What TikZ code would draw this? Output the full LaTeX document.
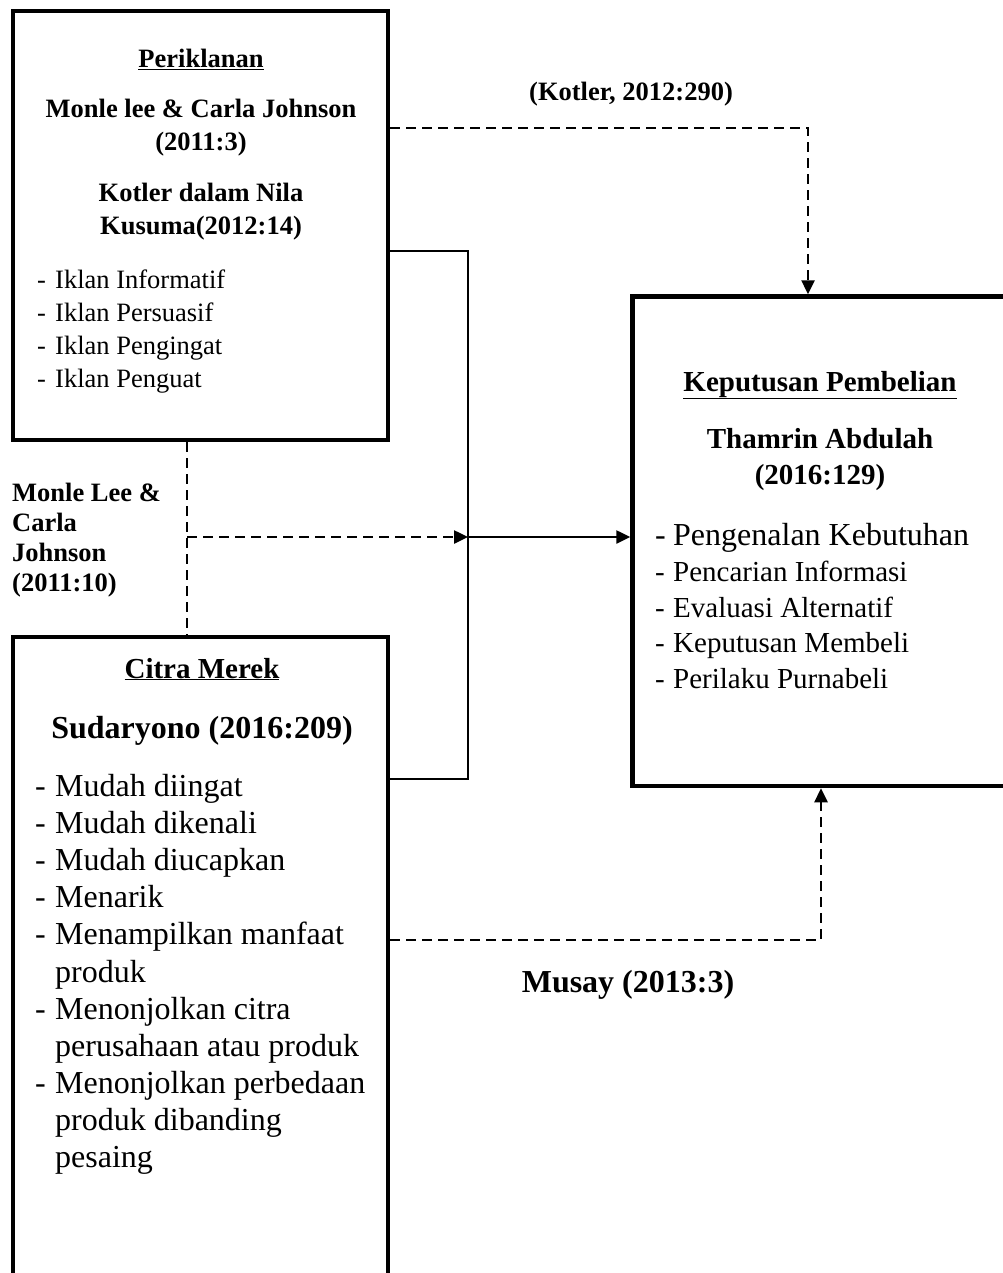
\documentclass[tikz,border=0pt]{standalone}
\usepackage{fontspec}
\setmainfont{Liberation Serif}
\usetikzlibrary{arrows.meta}
\tikzset{
  box/.style={draw, line width=4.5pt, inner sep=0pt},
  link/.style={line width=2.5pt},
  dlink/.style={line width=2.5pt, dash pattern=on 10pt off 6pt},
  tip/.style={-{Triangle[length=14pt,width=13pt]}},
  fA/.style={inner sep=0pt, font=\fontsize{26.5}{32}\selectfont},
  fB/.style={inner sep=0pt, font=\fontsize{29}{36}\selectfont},
  fC/.style={inner sep=0pt, font=\fontsize{32}{37}\selectfont},
}

\begin{document}
\begin{tikzpicture}[x=1pt,y=-1pt]
    \useasboundingbox (0,0) rectangle (1002,1273);

    % boxes
    \node[box, minimum width=375pt, minimum height=429pt] (per) at (200.5,225.5) {};
    \node[box, minimum width=375pt, minimum height=653pt] (cit) at (200.5,963.5) {};
    \node[box, minimum width=388pt, minimum height=489.5pt] (kep) at (826.5,541.25) {};

    % Periklanan
    \node[fA, anchor=base] (pt) at (201,68) {\textbf{\underline{Periklanan}}};
    \node[fA, anchor=base] (pa1) at (201,118) {\textbf{Monle lee \& Carla Johnson}};
    \node[fA, anchor=base] (pa2) at (201,151) {\textbf{(2011:3)}};
    \node[fA, anchor=base] (pa3) at (201,202) {\textbf{Kotler dalam Nila}};
    \node[fA, anchor=base] (pa4) at (201,235) {\textbf{Kusuma(2012:14)}};
    \foreach \t [count=\i from 0] in {Iklan Informatif, Iklan Persuasif, Iklan Pengingat, Iklan Penguat}
        \node[fA, anchor=base west] (pi\i) at (37,{288+33*\i}) {\makebox[18pt][l]{-}\t};

    % Keputusan Pembelian
    \node[fB, anchor=base] (kt0) at (820,391) {\textbf{\underline{Keputusan Pembelian}}};
    \node[fB, anchor=base] (kt1) at (820,448) {\textbf{Thamrin Abdulah}};
    \node[fB, anchor=base] (kt2) at (820,484) {\textbf{(2016:129)}};
    \node[fC, anchor=base west] (ki0) at (655,545) {\makebox[18pt][l]{-}Pengenalan Kebutuhan};
    \foreach \t [count=\i] in {Pencarian Informasi, Evaluasi Alternatif, Keputusan Membeli, Perilaku Purnabeli}
        \node[fB, anchor=base west] (ki\i) at (655,{546+35.6*\i}) {\makebox[18pt][l]{-}\t};

    % Citra Merek
    \node[fB, anchor=base] (ct0) at (202,678) {\textbf{\underline{Citra Merek}}};
    \node[fC, anchor=base] (ct1) at (202,738) {\textbf{Sudaryono (2016:209)}};
    \foreach \d/\t [count=\i from 0] in {-/Mudah diingat, -/Mudah dikenali, -/Mudah diucapkan, -/Menarik,
        -/Menampilkan manfaat, /produk, -/Menonjolkan citra, /perusahaan atau produk,
        -/Menonjolkan perbedaan, /produk dibanding, /pesaing}
        \node[fC, anchor=base west] (ci\i) at (35,{796.5+37.1*\i}) {\makebox[20pt][l]{\d}\t};

    % labels
    \node[fA, anchor=base] (lk) at (631,101) {\textbf{(Kotler, 2012:290)}};
    \node[fC, anchor=base] (lm) at (628,992) {\textbf{Musay (2013:3)}};
    \foreach \t [count=\i from 0] in {Monle Lee \&, Carla, Johnson, (2011:10)}
        \node[fA, anchor=base west] (ll\i) at (12,{501+30.3*\i}) {\textbf{\t}};

    % connectors
    \coordinate (jt) at (468,251);
    \coordinate (jb) at (468,779);
    \coordinate (jn) at (468,537);
    \coordinate (dv) at (187,537);
    \coordinate (kk) at (808,128);
    \coordinate (mm) at (821,940);

    \draw[link] (per.east |- jt) -- (jt) -- (jb) -- (cit.east |- jb);
    \draw[link, tip] (jn) -- (kep.west |- jn);
    \draw[dlink] (per.south -| dv) -- (cit.north -| dv);
    \draw[dlink, tip] (dv) -- (jn);
    \draw[dlink, tip] (per.east |- kk) -- (kk) -- (kep.north -| kk);
    \draw[dlink, tip] (cit.east |- mm) -- (mm) -- (kep.south -| mm);
\end{tikzpicture}
\end{document}
